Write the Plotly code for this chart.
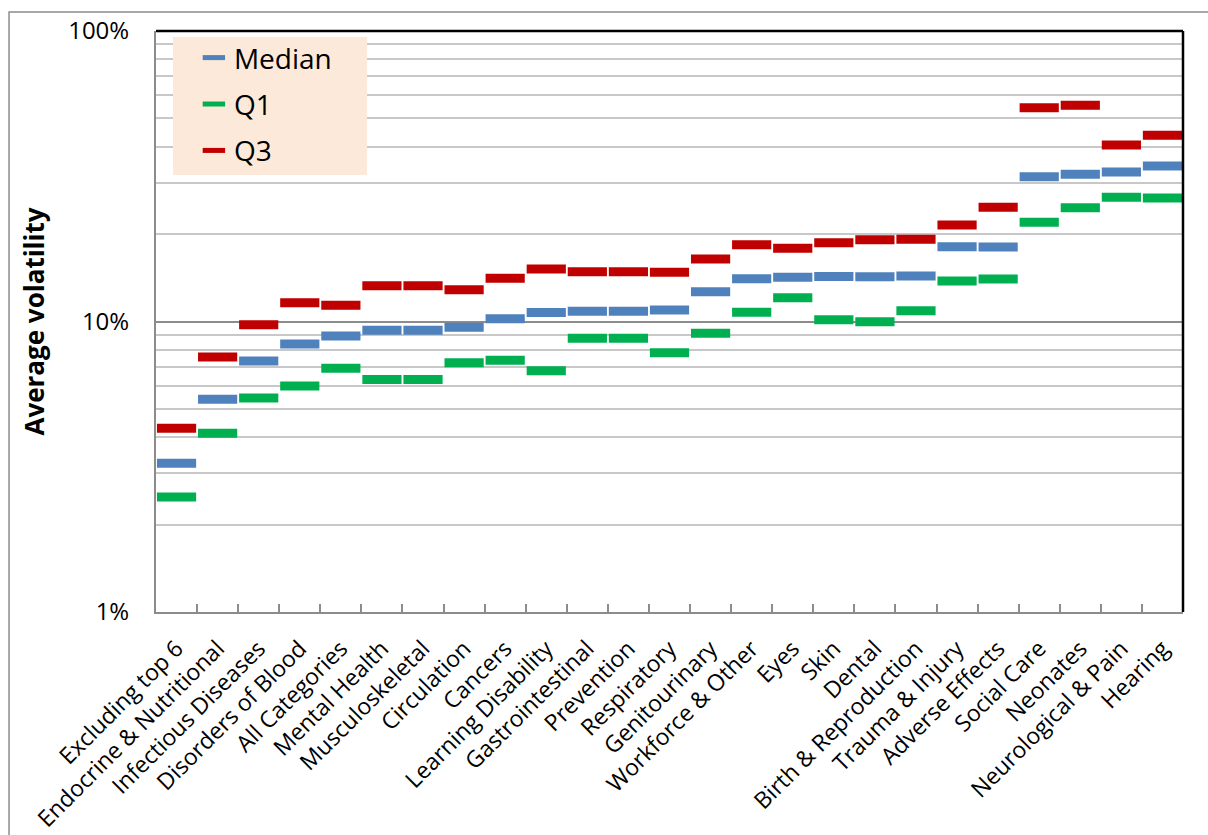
import plotly.graph_objects as go

categories = [
    "Excluding top 6", "Endocrine & Nutritional", "Infectious Diseases", "Disorders of Blood",
    "All Categories", "Mental Health", "Musculoskeletal", "Circulation", "Cancers",
    "Learning Disability", "Gastrointestinal", "Prevention", "Respiratory", "Genitourinary",
    "Workforce & Other", "Eyes", "Skin", "Dental", "Birth & Reproduction", "Trauma & Injury",
    "Adverse Effects", "Social Care", "Neonates", "Neurological & Pain", "Hearing",
]

# values in percent
median = [3.25, 5.40, 7.31, 8.37, 8.92, 9.33, 9.33, 9.55, 10.22, 10.74, 10.84, 10.84, 10.96,
          12.67, 14.04, 14.20, 14.29, 14.27, 14.34, 18.09, 18.05, 31.51, 32.11, 32.70, 34.30]
q1 = [2.49, 4.12, 5.45, 6.00, 6.90, 6.31, 6.31, 7.21, 7.35, 6.77, 8.75, 8.75, 7.81,
      9.11, 10.76, 12.08, 10.14, 9.98, 10.90, 13.79, 14.01, 21.96, 24.65, 26.77, 26.62]
q3 = [4.29, 7.55, 9.75, 11.61, 11.37, 13.28, 13.28, 12.87, 14.08, 15.16, 14.84, 14.84, 14.77,
      16.41, 18.38, 17.86, 18.67, 19.12, 19.19, 21.49, 24.72, 54.45, 55.49, 40.52, 43.75]

y_tickvals = [1, 10, 100]
y_ticktext = ["1%", "10%", "100%"]
y_minor = [2, 3, 4, 5, 6, 7, 8, 9, 20, 30, 40, 50, 60, 70, 80, 90]

series = [
    ("Median", median, "#4f81bd"),
    ("Q1", q1, "#00b050"),
    ("Q3", q3, "#c00000"),
]

fig = go.Figure()
for name, vals, col in series:
    fig.add_trace(go.Scatter(
        x=categories, y=vals, mode="markers", name=name, legendgroup=name,
        marker=dict(symbol="line-ew", size=28, color=col, line=dict(width=9, color=col)),
    ))

FONT = "Open Sans"

fig.update_layout(
    width=1208, height=835,
    margin=dict(l=156, r=25, t=31, b=223, autoexpand=False),
    paper_bgcolor="white", plot_bgcolor="white",
    font=dict(family=FONT, color="black", size=22),
    showlegend=True,
    legend=dict(
        x=0.0369, y=0.9967, xanchor="left", yanchor="top",
        bgcolor="rgba(0,0,0,0)", borderwidth=0,
        font=dict(family=FONT, size=28, color="black"),
        tracegroupgap=7,
    ),
    xaxis=dict(
        type="category", range=[-0.5, len(categories) - 0.5], automargin=False,
        tickson="boundaries", ticks="inside", ticklen=8, tickcolor="#8c8c8c", tickwidth=1.5,
        showline=True, linecolor="#8c8c8c", linewidth=2,
        showgrid=False, tickangle=-45, tickfont=dict(size=23, family=FONT),
        ticklabelstandoff=12,
    ),
    yaxis=dict(
        type="log", range=[0, 2], automargin=False,
        tickvals=y_tickvals, ticktext=y_ticktext,
        showgrid=True, gridcolor="#8c8c8c", gridwidth=1.5,
        minor=dict(tickvals=y_minor, showgrid=True, gridcolor="#c8c8c8", gridwidth=1.5, ticks=""),
        showline=True, linecolor="#8c8c8c", linewidth=2,
        ticks="", tickfont=dict(size=24, family=FONT),
        ticklabelstandoff=20,
        title=dict(text="<b>Average volatility</b>", font=dict(size=26, family=FONT), standoff=16),
    ),
    shapes=[
        # outer chart border
        dict(type="rect", xref="paper", yref="paper", x0=-0.1431, x1=1.031, y0=-0.401, y1=1.0327,
             line=dict(color="#8c8c8c", width=1.5), fillcolor="rgba(0,0,0,0)", layer="below"),
        # plot area top/right border
        dict(type="line", xref="paper", yref="paper", x0=0, x1=1, y0=1, y1=1,
             line=dict(color="black", width=2.5), layer="above"),
        dict(type="line", xref="paper", yref="paper", x0=1, x1=1, y0=0, y1=1,
             line=dict(color="black", width=2.5), layer="above"),
        # legend background box
        dict(type="rect", xref="paper", yref="paper", x0=0.01655, x1=0.2055, y0=0.7522, y1=0.9897,
             line=dict(width=0), fillcolor="#fde9d9", layer="above"),
    ],
)

fig.write_html("out.html")
